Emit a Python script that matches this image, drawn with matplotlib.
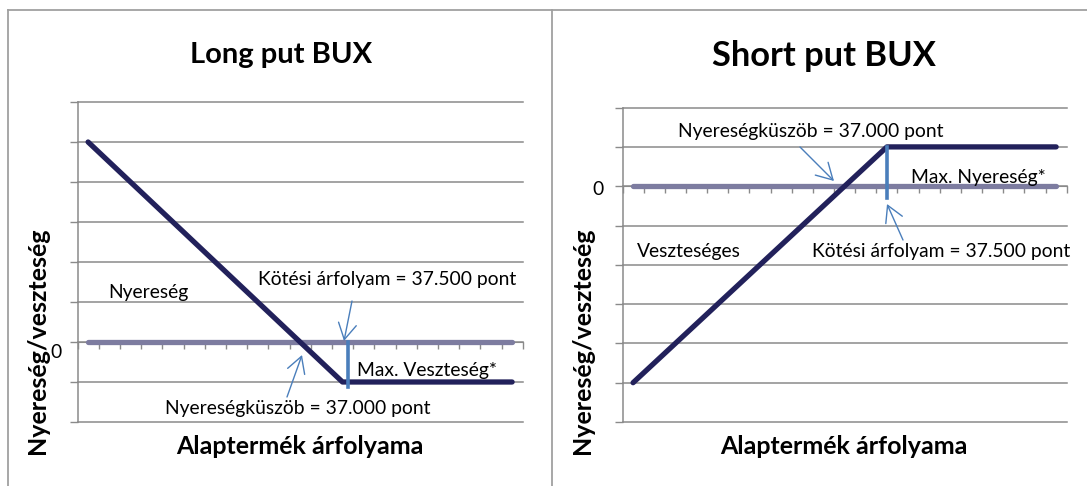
import matplotlib
matplotlib.use('Agg')
import matplotlib.pyplot as plt

W, H, DPI = 1087, 486, 100
plt.rcParams['font.family'] = ['Lato', 'DejaVu Sans']

# ---- data ----
x_index = list(range(21))
long_put = [5, 4.5, 4, 3.5, 3, 2.5, 2, 1.5, 1, 0.5, 0, -0.5, -1,
            -1, -1, -1, -1, -1, -1, -1, -1]
short_put = [-5, -4.5, -4, -3.5, -3, -2.5, -2, -1.5, -1, -0.5, 0, 0.5, 1,
             1, 1, 1, 1, 1, 1, 1, 1]
zero_series = [0, 0, 0, 0, 0, 0, 0, 0, 0, 0, 0, 0, 0,
               0, 0, 0, 0, 0, 0, 0, 0]
left_ylim = (-2, 6)
right_ylim = (-6, 2)

GRID = '#8A8A8A'
ZERO_C = '#7D7CA0'
LINE_C = '#22215B'
BLUE = '#4A7EBB'
FRAME = '#A0A0A0'

fig = plt.figure(figsize=(W / DPI, H / DPI), dpi=DPI)


def fx(x):
    return x / W


def fy(y):
    return 1 - y / H


def make_axes(x0, x1, y_top, y_bot):
    return fig.add_axes([fx(x0), fy(y_bot), fx(x1) - fx(x0), fy(y_top) - fy(y_bot)])


def style(ax, ylim):
    ax.set_xlim(-0.5, len(x_index) - 0.5)
    ax.set_ylim(*ylim)
    ax.set_yticks(range(ylim[0], ylim[1] + 1))
    ax.set_xticks([i - 0.5 for i in range(len(x_index) + 1)])
    ax.tick_params(axis='x', direction='out', length=5, width=1.0, color=GRID,
                   labelbottom=False)
    ax.tick_params(axis='y', direction='out', length=6, width=1.0, color=GRID,
                   labelleft=False)
    for s in ('top', 'right'):
        ax.spines[s].set_visible(False)
    ax.spines['bottom'].set_position(('data', 0))
    ax.spines['bottom'].set_color(GRID)
    ax.spines['left'].set_color(GRID)
    ax.spines['left'].set_linewidth(1.1)
    ax.grid(axis='y', color=GRID, lw=1.1)
    ax.grid(axis='x', visible=False)
    for gl in ax.get_ygridlines():
        gl.set_clip_on(False)
    ax.set_axisbelow(True)
    ax.patch.set_alpha(0)


axL = make_axes(77.5, 522.7, 102, 422)
style(axL, left_ylim)
axL.plot(x_index, zero_series, color=ZERO_C, lw=3.8, solid_capstyle='round', zorder=3)
axL.plot(x_index, long_put, color=LINE_C, lw=3.8, solid_capstyle='round', zorder=4)
axL.plot([12.28, 12.28], [0, -1.12], color=BLUE, lw=2.6, zorder=5)

axR = make_axes(622.5, 1066.7, 107.6, 422)
style(axR, right_ylim)
axR.plot(x_index, zero_series, color=ZERO_C, lw=3.8, solid_capstyle='round', zorder=3)
axR.plot(x_index, short_put, color=LINE_C, lw=3.8, solid_capstyle='round', zorder=4)
axR.plot([12.0, 12.0], [1, -0.3], color=BLUE, lw=2.6, zorder=5)

# overlay in pixel coordinates
ov = fig.add_axes([0, 0, 1, 1])
ov.set_xlim(0, W)
ov.set_ylim(H, 0)
ov.axis('off')
ov.patch.set_alpha(0)

# frames
ov.plot([8, 8], [10, H], color=FRAME, lw=1.3)
ov.plot([8, W], [10, 10], color=FRAME, lw=1.3)
ov.plot([551.5, 551.5], [10, H], color=FRAME, lw=1.3)

TXT = 13.9
AX_T = 18
# left panel texts
ov.text(281, 55, 'Long put BUX', ha='center', va='center', fontsize=21, fontweight='bold')
ov.text(108, 292, 'Nyereség', ha='left', va='center', fontsize=TXT)
ov.text(258, 279, 'Kötési árfolyam = 37.500 pont', ha='left', va='center', fontsize=TXT)
ov.text(357, 370, 'Max. Veszteség*', ha='left', va='center', fontsize=TXT)
ov.text(165, 408, 'Nyereségküszöb = 37.000 pont', ha='left', va='center', fontsize=TXT)
ov.text(56, 352, '0', ha='center', va='center', fontsize=TXT)
ov.text(38, 341, 'Nyereség/veszteség', ha='center', va='center', rotation=90,
        fontsize=AX_T, fontweight='bold')
ov.text(300, 446, 'Alaptermék árfolyama', ha='center', va='center',
        fontsize=AX_T, fontweight='bold')

# right panel texts
ov.text(824, 56, 'Short put BUX', ha='center', va='center', fontsize=24.8, fontweight='bold')
ov.text(678, 131, 'Nyereségküszöb = 37.000 pont', ha='left', va='center', fontsize=TXT)
ov.text(911, 177, 'Max. Nyereség*', ha='left', va='center', fontsize=TXT)
ov.text(637, 251, 'Veszteséges', ha='left', va='center', fontsize=TXT)
ov.text(812, 251, 'Kötési árfolyam = 37.500 pont', ha='left', va='center', fontsize=TXT)
ov.text(598, 189, '0', ha='center', va='center', fontsize=TXT)
ov.text(583, 341, 'Nyereség/veszteség', ha='center', va='center', rotation=90,
        fontsize=AX_T, fontweight='bold')
ov.text(844, 446, 'Alaptermék árfolyama', ha='center', va='center',
        fontsize=AX_T, fontweight='bold')

arrow = dict(arrowstyle='->,head_length=1.15,head_width=0.65', color=BLUE, lw=1.0,
             shrinkA=0, shrinkB=0)
for tail, tip in [((352, 301), (344, 341)), ((287, 397), (302, 355)),
                  ((800, 147), (834, 181)), ((903, 240), (887, 204))]:
    ov.annotate('', xy=tip, xytext=tail, arrowprops=arrow)

fig.savefig('out.png', dpi=DPI)
